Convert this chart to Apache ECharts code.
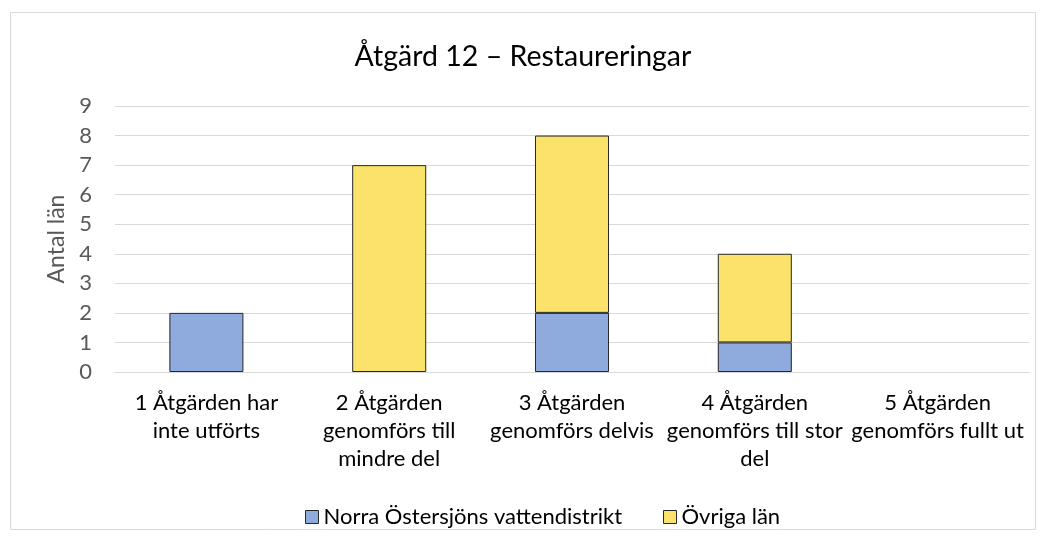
<!DOCTYPE html>
<html><head><meta charset="utf-8">
<script src="https://cdn.jsdelivr.net/npm/echarts@6/dist/echarts.min.js"></script>
<style>html,body{margin:0;padding:0;background:#fff;}#c{width:1046px;height:544px;}</style>
</head><body><div id="c"></div>
<script>
const categories = [
  "1 Åtgärden har\ninte utförts",
  "2 Åtgärden\ngenomförs till\nmindre del",
  "3 Åtgärden\ngenomförs delvis",
  "4 Åtgärden\ngenomförs till stor\ndel",
  "5 Åtgärden\ngenomförs fullt ut"
];
const seriesNames = ["Norra Östersjöns vattendistrikt", "Övriga län"];
const norra = [2, 0, 2, 1, 0];
const ovriga = [0, 7, 6, 3, 0];
const yTicks = [0, 9, 1];

const FONT = "Lato, 'Open Sans', sans-serif";
const noZero = arr => arr.map(v => (v === 0 ? null : v));
const chart = echarts.init(document.getElementById('c'), null, {renderer: 'canvas'});
chart.setOption({
  animation: false,
  backgroundColor: '#fff',
  graphic: [{type: 'rect', shape: {x: 10.5, y: 12.5, width: 1025, height: 517}, style: {fill: 'none', stroke: '#d9d9d9', lineWidth: 1}, silent: true}],
  title: {text: 'Åtgärd 12 – Restaureringar', left: 'center', top: 37,
    textStyle: {fontFamily: FONT, fontSize: 28.5, fontWeight: 'normal', color: '#000'}},
  legend: {top: 501, left: 300, itemWidth: 13, itemHeight: 13, itemGap: 41,
    textStyle: {fontFamily: FONT, fontSize: 22, color: '#000'},
    data: seriesNames.map(n => ({name: n, icon: 'rect', itemStyle: {borderColor: '#262626', borderWidth: 1}}))},
  grid: {left: 115, right: 17, top: 106, bottom: 172},
  xAxis: {type: 'category', data: categories,
    axisLine: {lineStyle: {color: '#d9d9d9', width: 1}}, axisTick: {show: false},
    axisLabel: {fontFamily: FONT, fontSize: 22, color: '#000', lineHeight: 28, margin: 17, interval: 0}},
  yAxis: {type: 'value', min: yTicks[0], max: yTicks[1], interval: yTicks[2],
    name: 'Antal län', nameLocation: 'middle', nameGap: 46,
    nameTextStyle: {fontFamily: FONT, fontSize: 23, color: '#595959'},
    axisLine: {show: false}, axisTick: {show: false},
    axisLabel: {fontFamily: FONT, fontSize: 22, color: '#595959', margin: 23},
    splitLine: {lineStyle: {color: '#d9d9d9', width: 1}}},
  series: [
    {name: seriesNames[0], type: 'bar', stack: 's', data: noZero(norra), barWidth: '40.5%',
      itemStyle: {color: '#8faadc', borderColor: '#262626', borderWidth: 1}},
    {name: seriesNames[1], type: 'bar', stack: 's', data: noZero(ovriga), barWidth: '40.5%',
      itemStyle: {color: '#fae26b', borderColor: '#262626', borderWidth: 1}}
  ]
});
</script></body></html>
